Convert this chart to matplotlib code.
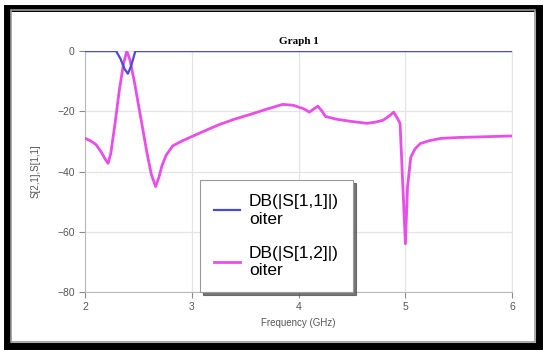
import matplotlib
matplotlib.use('Agg')
import matplotlib.pyplot as plt
from matplotlib.patches import Rectangle

plt.rcParams['font.family'] = ['Liberation Sans', 'DejaVu Sans']

# S11 trace (blue), frequency in GHz, values in dB
f_s11 = [2.0, 2.29, 2.33, 2.37, 2.40, 2.43, 2.47, 6.0]
s11 = [0.0, 0.0, -2.5, -6.0, -7.5, -5.0, 0.0, 0.0]

# S12 trace (magenta)
f_s12 = [2.0, 2.05, 2.1, 2.15, 2.19, 2.215, 2.24, 2.28, 2.32, 2.36, 2.39,
         2.42, 2.46, 2.52, 2.58, 2.62, 2.66, 2.69, 2.72, 2.76, 2.82, 2.9,
         2.98, 3.1, 3.25, 3.4, 3.55, 3.7, 3.85, 3.95, 4.05, 4.10, 4.15,
         4.18, 4.22, 4.25, 4.35, 4.48, 4.64, 4.72, 4.79, 4.85, 4.89, 4.92,
         4.95, 4.97, 5.0, 5.02, 5.05, 5.09, 5.14, 5.22, 5.33, 5.5, 5.7,
         5.89, 6.0]
s12 = [-29.0, -29.8, -31.0, -33.5, -36.0, -37.3, -34.0, -24.0, -13.0, -4.0, 0.0,
       -3.0, -10.0, -22.0, -34.0, -41.0, -45.0, -42.0, -38.0, -34.5, -31.5, -30.0,
       -28.7, -26.8, -24.5, -22.6, -21.0, -19.3, -17.7, -18.0, -19.2, -20.3, -19.0,
       -18.3, -20.0, -21.7, -22.6, -23.3, -24.0, -23.6, -23.0, -21.5, -20.3, -22.0,
       -24.0, -40.0, -64.0, -45.0, -35.3, -32.5, -30.7, -29.8, -29.0, -28.7, -28.5,
       -28.3, -28.2]

xticks = [2, 3, 4, 5, 6]
yticks = [0, -20, -40, -60, -80]

fig = plt.figure(figsize=(5.46, 3.5), dpi=100)
fig.patch.set_facecolor('white')

# Outer black frame
fig.patches.append(Rectangle((0.012, 0.012), 0.976, 0.966, transform=fig.transFigure,
                             fill=False, edgecolor='black', linewidth=5, zorder=0))
fig.patches.append(Rectangle((0.02, 0.022), 0.96, 0.95, transform=fig.transFigure,
                             fill=False, edgecolor='#9a9a9a', linewidth=1.2, zorder=0))

ax = fig.add_axes([0.156, 0.166, 0.782, 0.688])

ax.plot(f_s12, s12, color='#e84ee8', linewidth=2.0, label='DB(|S[1,2]|)\noiter', zorder=3)
ax.plot(f_s11, s11, color='#4a4ad8', linewidth=1.6, label='DB(|S[1,1]|)\noiter', zorder=4)

ax.set_xlim(2, 6)
ax.set_ylim(-80, 0)
ax.set_xticks(xticks)
ax.set_yticks(yticks)
ax.grid(True, color='#e4e4e4', linewidth=0.9)
ax.set_axisbelow(True)

for side in ['top', 'right']:
    ax.spines[side].set_color('#e4e4e4')
for side in ['left', 'bottom']:
    ax.spines[side].set_color('#b8b8b8')
ax.tick_params(colors='#8a8a8a', labelsize=7.5, length=4, width=0.8,
               labelcolor='#555555')

ax.set_title('Graph 1', fontfamily='Liberation Serif', fontweight='bold',
             fontsize=8, pad=5)
ax.set_xlabel('Frequency (GHz)', fontsize=7, color='#555555', labelpad=4)
ax.set_ylabel('S[2,1],S[1,1]', fontsize=7, color='#555555', labelpad=12)

handles, labels = ax.get_legend_handles_labels()
leg = ax.legend(handles[::-1], labels[::-1], loc='lower left',
                bbox_to_anchor=(0.27, 0.0), fontsize=12.5, handlelength=1.5,
                handletextpad=0.5, labelspacing=1.1, borderpad=0.8,
                borderaxespad=0.0, fancybox=False, shadow={'color': '#555555', 'alpha': 0.8},
                framealpha=1)
leg.get_frame().set_edgecolor('#9a9a9a')
leg.get_frame().set_linewidth(0.8)

fig.savefig('out.png', dpi=100)
